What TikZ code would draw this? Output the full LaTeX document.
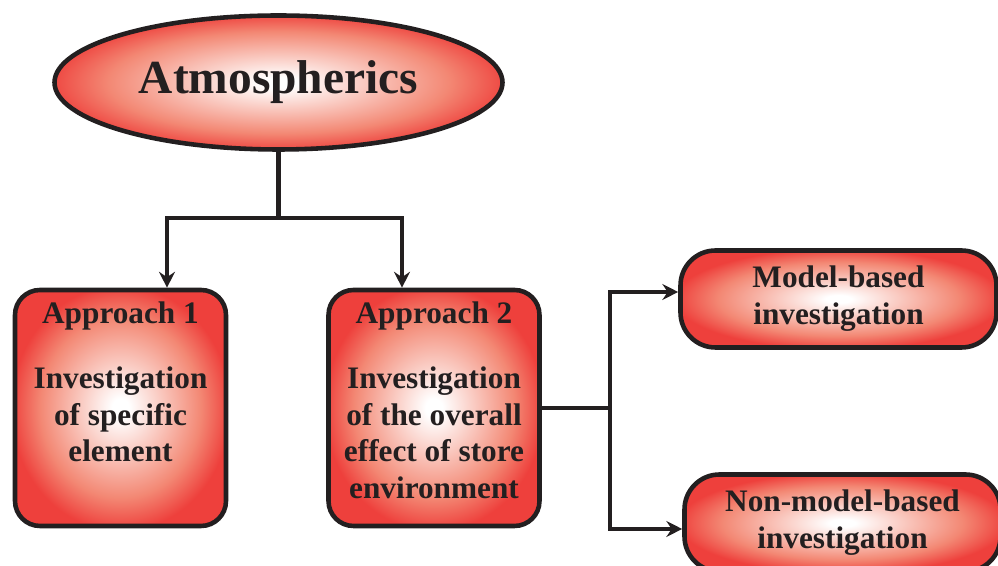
\documentclass[tikz,border=0pt]{standalone}
\usepackage{fontspec}
\setmainfont{Liberation Serif}
\usetikzlibrary{arrows.meta,positioning,shapes.geometric}
\definecolor{boxred}{RGB}{238,64,60}
\definecolor{salmon}{RGB}{243,136,116}
\definecolor{ink}{RGB}{35,31,32}
\pgfdeclareradialshading{glow}{\pgfpointorigin}{color(0bp)=(white); color(2bp)=(white); color(19bp)=(salmon); color(26bp)=(boxred); color(50bp)=(boxred)}

\begin{document}
\begin{tikzpicture}[
  box/.style={draw=ink, line width=2.6pt, shading=glow, rounded corners=0.5cm},
  txt/.style={font=\bfseries\fontsize{17.8}{21}\selectfont, text=ink, align=center, inner sep=0pt},
  link/.style={draw=ink, line width=2.4pt},
  arrow/.style={link, -{Stealth[length=9pt,width=9pt,inset=3pt]}}]
\useasboundingbox (0,0) rectangle (19.96,11.32);
\clip (0,0) rectangle (19.96,11.32);
\node[draw=ink, line width=2.6pt, shading=glow, ellipse, minimum width=8.96cm, minimum height=2.68cm,
  font=\bfseries\fontsize{27}{32}\selectfont, text=ink] (atm) at (5.57,9.67) {Atmospherics};
\node[box, minimum width=4.22cm, minimum height=4.72cm] (a1) at (2.41,3.16) {};
\node[box, minimum width=4.22cm, minimum height=4.72cm] (a2) at (8.68,3.16) {};
\node[box, rounded corners=0.7cm, minimum width=6.32cm, minimum height=1.94cm, txt] (mod) at (16.77,5.34) {Model-based\\investigation};
\node[box, rounded corners=0.7cm, minimum width=6.32cm, minimum height=1.94cm, txt] (nmod) at (16.85,0.86) {Non-model-based\\investigation};
\node[txt, below=0.27 of a1.north] (t1) {Approach 1\\[15.9pt]Investigation\\of specific\\element};
\node[txt, below=0.27 of a2.north] (t2) {Approach 2\\[15.9pt]Investigation\\of the overall\\effect of store\\environment};
\coordinate (jl) at (3.34,6.96);
\coordinate (jr) at (8.04,6.96);
\coordinate (st) at (12.2,5.48);
\coordinate (sb) at (12.2,0.74);
\draw[link] (atm.south) -- (atm.south |- jl);
\draw[arrow] (jr) -- (jl) -- (jl |- a1.north);
\draw[arrow] (jl) -- (jr) -- (jr |- a2.north);
\draw[link] (a2.east) -- (a2.east -| st);
\draw[arrow] (sb) -- (st) -- (mod.west |- st);
\draw[arrow] (st) -- (sb) -- (nmod.west |- sb);
\end{tikzpicture}
\end{document}
